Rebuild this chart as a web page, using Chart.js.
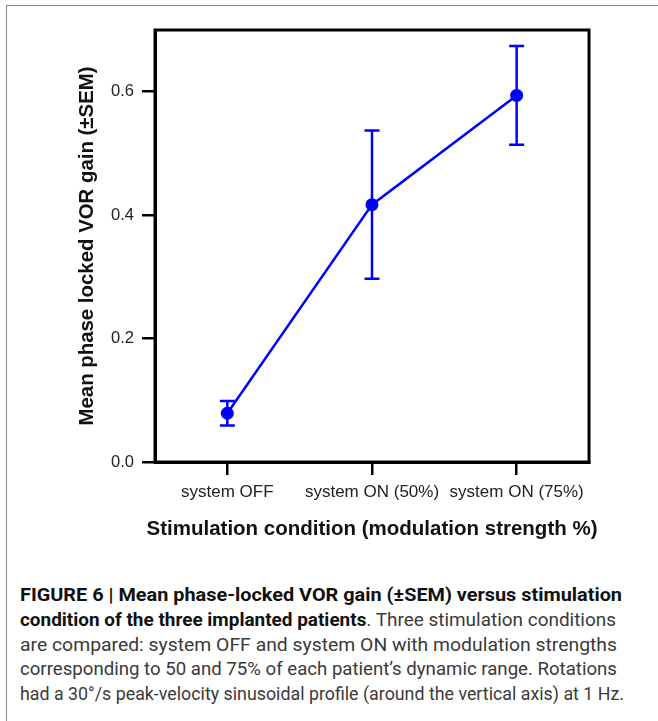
<!DOCTYPE html>
<html>
<head>
<meta charset="utf-8">
<script src="https://cdn.jsdelivr.net/npm/chart.js@4.4.1/dist/chart.umd.min.js"></script>
<style>
  html, body { margin: 0; padding: 0; background: #fff; width: 658px; height: 721px; overflow: hidden; }
  #frame { position: absolute; left: 6px; top: 5px; width: 700px; height: 800px; border: 1px solid #8a8a8a; box-sizing: border-box; }
  #wrap { position: absolute; left: 0; top: 0; width: 658px; height: 560px; }
  #xtitle { position: absolute; left: 72px; width: 600px; top: 515px; height: 26px; line-height: 26px; text-align: center; font-family: "Liberation Sans", Arial, sans-serif; font-weight: bold; font-size: 20.5px; color: #111; white-space: nowrap; }
  #caption { position: absolute; left: 20px; top: 583px; font-family: Roboto, "Liberation Sans", sans-serif; font-size: 18px; line-height: 24.8px; color: #3a3a3a; }
  #caption .ln { white-space: nowrap; display: block; transform-origin: 0 50%; }
  #caption b { color: #111; font-weight: 700; }
</style>
</head>
<body>
<div id="frame"></div>
<div id="wrap"><canvas id="c" width="658" height="560"></canvas></div>
<div id="xtitle"></div>
<div id="caption">
  <span class="ln" data-w="602"><b>FIGURE 6 | Mean phase-locked VOR gain (±SEM) versus stimulation</b></span>
  <span class="ln" data-w="596"><b>condition of the three implanted patients</b>. Three stimulation conditions</span>
  <span class="ln" data-w="597">are compared: system OFF and system ON with modulation strengths</span>
  <span class="ln" data-w="597">corresponding to 50 and 75% of each patient’s dynamic range. Rotations</span>
  <span class="ln" data-w="604">had a 30°/s peak-velocity sinusoidal profile (around the vertical axis) at 1 Hz.</span>
</div>
<script>
const categories = ['system OFF', 'system ON (50%)', 'system ON (75%)'];
const meanGain = [0.079, 0.417, 0.594];
const semGain = [0.020, 0.120, 0.080];
const yTickValues = [0.0, 0.2, 0.4, 0.6];
const yTitle = 'Mean phase locked VOR gain (±SEM)';
const xTitle = 'Stimulation condition (modulation strength %)';

const BLUE = '#0000ff';
const FONT = '"Liberation Sans", Arial, sans-serif';

document.getElementById('xtitle').textContent = xTitle;

const boxPlugin = {
  id: 'box',
  beforeDatasetsDraw(chart) {
    const a = chart.chartArea, ctx = chart.ctx;
    ctx.save();
    ctx.strokeStyle = '#000';
    ctx.lineWidth = 3;
    ctx.strokeRect(a.left, a.top, a.right - a.left, a.bottom - a.top);
    ctx.restore();
  }
};

const errorBarPlugin = {
  id: 'errorBars',
  beforeDatasetsDraw(chart) {
    const meta = chart.getDatasetMeta(0);
    const y = chart.scales.y, ctx = chart.ctx;
    ctx.save();
    ctx.strokeStyle = BLUE;
    ctx.lineWidth = 2.5;
    meta.data.forEach((pt, i) => {
      const yt = y.getPixelForValue(meanGain[i] + semGain[i]);
      const yb = y.getPixelForValue(meanGain[i] - semGain[i]);
      const x = pt.x, cap = 7.5;
      ctx.beginPath();
      ctx.moveTo(x, yt); ctx.lineTo(x, yb);
      ctx.moveTo(x - cap, yt); ctx.lineTo(x + cap, yt);
      ctx.moveTo(x - cap, yb); ctx.lineTo(x + cap, yb);
      ctx.stroke();
    });
    ctx.restore();
  }
};

new Chart(document.getElementById('c'), {
  type: 'line',
  data: {
    labels: categories,
    datasets: [{
      data: meanGain,
      borderColor: BLUE,
      borderWidth: 2.5,
      backgroundColor: BLUE,
      pointBackgroundColor: BLUE,
      pointBorderWidth: 0,
      pointRadius: 6.5,
      tension: 0,
      fill: false
    }]
  },
  options: {
    responsive: false,
    animation: false,
    devicePixelRatio: 1,
    events: [],
    layout: { padding: { left: 0, top: 30, right: 69, bottom: 0 } },
    plugins: { legend: { display: false }, tooltip: { enabled: false } },
    scales: {
      x: {
        type: 'category',
        offset: true,
        afterFit(s) { s.height = 98; },
        border: { display: true, color: '#000', width: 3 },
        grid: { display: true, drawOnChartArea: false, drawTicks: true, tickLength: 13, color: '#000', lineWidth: 2.5, offset: false },
        ticks: { padding: 7, color: '#222', font: { family: FONT, size: 17 }, maxRotation: 0, autoSkip: false },
        title: { display: false, text: xTitle }
      },
      y: {
        min: 0,
        max: 0.7,
        afterFit(s) { s.width = 155; },
        afterBuildTicks(s) { s.ticks = yTickValues.map(v => ({ value: v })); },
        border: { display: true, color: '#000', width: 3 },
        grid: { display: true, drawOnChartArea: false, drawTicks: true, tickLength: 13, color: '#000', lineWidth: 2.5 },
        ticks: { padding: 8, color: '#222', font: { family: FONT, size: 16.5 }, callback: v => Number(v).toFixed(1) },
        title: { display: true, text: yTitle, color: '#111', font: { family: FONT, size: 20.4, weight: 'bold' }, padding: { top: 75.5, bottom: 0 } }
      }
    }
  },
  plugins: [boxPlugin, errorBarPlugin]
});

// fit each caption line to its measured width in the reference
document.querySelectorAll('#caption .ln').forEach(el => {
  const target = parseFloat(el.dataset.w);
  el.style.display = 'inline-block';
  const w = el.getBoundingClientRect().width;
  el.style.display = 'block';
  if (w > 0) el.style.transform = 'scaleX(' + (target / w).toFixed(4) + ')';
});
</script>
</body>
</html>
